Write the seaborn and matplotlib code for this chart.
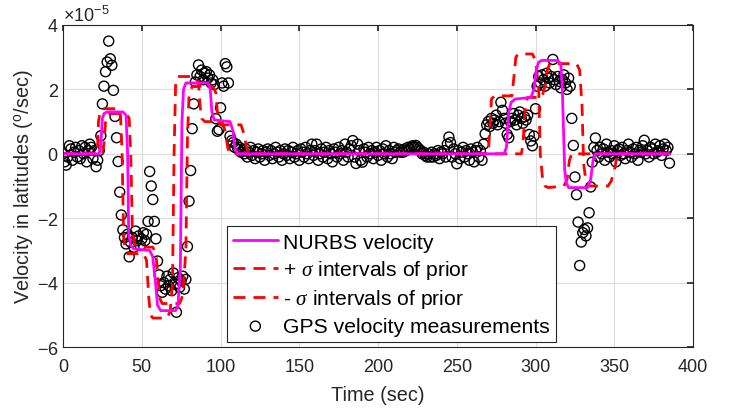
import numpy as np
import pandas as pd
import matplotlib
matplotlib.use("Agg")
import matplotlib.pyplot as plt
import seaborn as sns
from matplotlib.ticker import ScalarFormatter

# ---------------- data (velocity values in units of 1e-5 deg/sec) ----------------
SCALE = 1e-5

gps_vel = [
    # t 0-23
    0.0, -0.25, -0.35, -0.1, 0.25, 0.15, -0.2, 0.05, 0.2, -0.1,
    0.1, -0.15, 0.25, 0.0, 0.2, -0.25, 0.1, 0.3, 0.2, -0.15,
    0.1, -0.4, -0.2, 0.1,
    # t 24-38
    0.56, 1.55, 2.1, 2.55, 2.85, 3.5, 2.95, 2.75, 1.97, 1.16, 0.5, -0.24, -1.19, -1.9, -2.36,
    # t 39-53
    -2.6, -2.8, -2.5, -3.2, -2.75, -2.6, -2.9, -2.4, -2.7, -2.55, -2.85, -2.65, -2.45, -2.7, -2.5,
    # t 54-63
    -2.1, -0.55, -1.0, -1.42, -2.1, -2.64, -3.33, -3.76, -4.1, -4.3,
    # t 64-78
    -4.0, -4.2, -3.8, -4.1, -3.9, -4.25, -3.7, -4.05, -4.92, -3.85, -4.15, -3.95, -3.8, -4.2, -3.9,
    # t 79-95
    -2.88, -1.47, -0.52, 0.78, 1.55, 2.23, 2.45, 2.76, 2.4, 2.6, 2.3, 2.5, 2.55, 2.35, 2.45, 2.2, 2.3,
    # t 96-106
    2.15, 1.09, 0.7, 0.75, 1.43, 2.2, 2.1, 2.8, 2.7, 2.2, 0.55,
    # t 107-114
    0.41, 0.35, 0.2, 0.3, 0.15, 0.2, 0.05, 0.1,
    # t 115-264
    0.0, 0.15, -0.1, 0.05, 0.2, -0.05, 0.1, -0.15, 0.05, 0.15,
    -0.1, 0.0, 0.1, -0.2, 0.05, 0.15, -0.05, 0.1, -0.15, 0.0,
    0.2, 0.05, -0.1, 0.1, -0.2, 0.0, 0.15, -0.05, 0.1, -0.15,
    0.05, 0.2, -0.1, 0.0, 0.1, -0.2, 0.15, 0.05, -0.1, 0.2,
    0.0, -0.15, 0.1, 0.3, -0.05, 0.1, 0.3, -0.2, 0.0, 0.15,
    -0.1, 0.05, 0.2, -0.15, 0.1, 0.0, -0.25, 0.15, 0.05, -0.1,
    0.2, 0.0, 0.1, -0.2, 0.3, 0.05, -0.1, 0.15, 0.25, 0.41,
    -0.1, -0.3, 0.3, 0.1, -0.2, -0.26, 0.15, 0.05, -0.1, 0.2,
    0.0, 0.1, -0.15, 0.05, 0.2, -0.05, 0.1, -0.2, 0.15, 0.0,
    0.25, -0.1, 0.1, 0.0, -0.15, 0.2, 0.05, 0.1, 0.15, 0.05,
    0.1, 0.05, 0.15, 0.1, 0.2, 0.15, 0.2, 0.25, 0.2, 0.26,
    0.2, 0.15, 0.1, 0.0, 0.05, -0.05, -0.1, 0.0, -0.1, 0.05,
    -0.1, 0.0, -0.05, 0.1, -0.15, 0.05, 0.0, 0.1, -0.1, 0.3,
    0.52, 0.35, -0.1, 0.15, 0.0, -0.31, 0.1, -0.15, 0.05, 0.2,
    -0.1, 0.1, 0.0, -0.2, 0.15, 0.05, -0.25, 0.1, 0.2, -0.1,
    # t 265-300
    0.1, -0.2, 0.3, 0.62, 0.9, 1.0, 0.85, 1.1, 0.95, 1.05,
    1.2, 0.9, 1.0, 1.6, 1.35, 1.1, 0.95, 0.6, 0.5, 1.0,
    1.1, 1.25, 1.05, 0.9, 1.2, 1.3, 1.1, 0.95, 1.15, 1.05,
    1.2, 0.6, 0.4, 0.25, 0.55, 1.4,
    # t 301-322
    2.1, 2.4, 2.2, 2.45, 2.3, 2.1, 2.5, 2.35, 2.2, 2.4,
    2.93, 2.3, 2.15, 2.4, 2.25, 2.05, 2.3, 2.45, 2.2, 2.0, 2.35, 2.1,
    # t 323-338
    1.1, 0.26, -0.72, -1.27, -2.12, -3.47, -2.74, -2.45, -2.35, -2.55,
    -2.3, -1.83, -1.03, -0.26, 0.2, 0.49,
    # t 339-385
    0.1, -0.1, 0.2, 0.0, 0.15, -0.2, 0.3, 0.05, -0.1, 0.1,
    0.0, 0.25, -0.25, 0.1, 0.15, -0.05, 0.2, 0.0, -0.15, 0.1,
    0.3, 0.05, -0.1, 0.15, 0.0, 0.2, -0.2, 0.1, 0.05, 0.25,
    0.42, 0.0, 0.1, -0.1, 0.2, 0.15, 0.0, 0.3, 0.05, 0.1,
    0.25, -0.05, 0.15, 0.3, 0.1, 0.2, -0.29,
]
gps_time = np.arange(len(gps_vel))  # one sample per second

nurbs_t = [0, 23, 24, 25, 26, 28, 38, 40, 41, 41.7, 43, 45, 55, 57, 58.7, 60, 62, 71.5, 73, 74.5,
           75.5, 76.5, 78, 92, 93.5, 94.5, 96, 106, 108, 109, 111, 280, 281.5, 283, 284.5, 287,
           297, 299, 300.5, 302, 304, 314, 316, 317, 318.5, 319.5, 321, 333, 335, 336.5, 338, 385]
nurbs_v = [0, 0, 0.3, 1.1, 1.25, 1.3, 1.3, 1.2, 0, -2.5, -2.85, -2.95, -3.0, -3.2, -4.0, -4.7, -4.87,
           -4.87, -4.7, -3.5, 1.0, 2.0, 2.2, 2.2, 2.0, 1.3, 1.05, 1.0, 0.7, 0.2, 0, 0, 0.2, 1.3, 1.6,
           1.7, 1.75, 2.0, 2.6, 2.85, 2.9, 2.9, 2.8, 2.0, -0.5, -0.9, -1.05, -1.05, -0.8, -0.2, 0, 0]

plus_t = [0, 21, 22, 22.5, 23.5, 25, 35, 36.5, 37.5, 38.5, 39.5, 41, 51, 53, 54.5, 55.5, 57, 66, 68,
          69.5, 70.5, 71.5, 73, 84, 86, 87, 88, 90, 101, 103, 104.5, 106, 270, 271, 272, 274, 285,
          286.5, 287.5, 289, 298, 300, 302, 303, 304.5, 306, 308, 318, 320, 321.5, 323, 385]
plus_v = [0, 0, 0.3, 1.0, 1.3, 1.4, 1.4, 1.2, 0, -2.6, -3.0, -3.1, -3.1, -3.3, -4.5, -5.0, -5.1,
          -5.1, -4.9, -4.0, 0, 2.2, 2.4, 2.4, 2.2, 1.5, 1.1, 1.0, 1.0, 0.7, 0.2, 0, 0, 0.8, 1.7, 1.8,
          1.8, 2.5, 3.0, 3.1, 3.1, 2.9, 2.0, 0, -0.8, -1.0, -1.05, -1.0, -0.8, -0.2, 0, 0]

minus_t = [0, 25, 26, 27, 28, 30, 40, 42, 43, 44, 45.5, 47, 57, 59, 60.5, 61.5, 63, 74, 76, 78,
           79, 80, 82, 95, 97, 98, 99, 101, 113, 115, 116.5, 118, 291, 292, 293.5, 295, 304, 306,
           307.5, 309, 326, 328, 329.5, 330.5, 332, 334, 346, 348, 350, 351.5, 353, 385]
minus_v = [0, 0, 0.3, 1.0, 1.2, 1.25, 1.25, 1.1, 0, -2.3, -2.8, -2.9, -2.9, -3.1, -4.0, -4.5, -4.65,
           -4.65, -4.4, -3.0, 0.5, 1.8, 2.1, 2.1, 1.9, 1.3, 0.95, 0.9, 0.9, 0.6, 0.2, 0, 0, 0.3, 1.5,
           1.75, 1.75, 2.1, 2.6, 2.8, 2.8, 2.6, 1.5, -0.3, -0.85, -1.0, -1.0, -0.85, -0.5, -0.15, 0, 0]

x_ticks = [0, 50, 100, 150, 200, 250, 300, 350, 400]
y_ticks = [-6, -4, -2, 0, 2, 4]

labels = ["NURBS velocity", r"+ $\sigma$ intervals of prior",
          r"- $\sigma$ intervals of prior", "GPS velocity measurements"]

# ---------------- style ----------------
sns.set_theme(style="white")
plt.rcParams["font.family"] = ["Liberation Sans", "DejaVu Sans"]
plt.rcParams["axes.unicode_minus"] = False
plt.rcParams["mathtext.fontset"] = "custom"
plt.rcParams["mathtext.rm"] = "Liberation Sans"
plt.rcParams["mathtext.it"] = "Liberation Serif:italic"
plt.rcParams["mathtext.sf"] = "Liberation Sans"
TXT = "#262626"

fig = plt.figure(figsize=(7.32, 4.10), dpi=100)
ax = fig.add_axes([0.0861, 0.1512, 0.8607, 0.7854])

dash = (0, (4.3, 2.9))
sns.lineplot(x=np.array(plus_t), y=np.array(plus_v) * SCALE, ax=ax, color="#ff0000",
             linewidth=2.0, linestyle=dash, sort=False, estimator=None, label=labels[1])
sns.lineplot(x=np.array(minus_t), y=np.array(minus_v) * SCALE, ax=ax, color="#ff0000",
             linewidth=2.0, linestyle=dash, sort=False, estimator=None, label=labels[2])
sns.lineplot(x=np.array(nurbs_t), y=np.array(nurbs_v) * SCALE, ax=ax, color="#ff00ff",
             linewidth=2.0, sort=False, estimator=None, label=labels[0])
sns.scatterplot(x=gps_time, y=np.array(gps_vel) * SCALE, ax=ax, marker="o", s=52,
                color="black", linewidth=1.0, label=labels[3])
coll = ax.collections[-1]
coll.set_facecolor("none")
coll.set_edgecolor("black")

ax.set_xlim(0, 400)
ax.set_ylim(-6 * SCALE, 4 * SCALE)
ax.set_xticks(x_ticks)
ax.set_yticks([v * SCALE for v in y_ticks])
fmt = ScalarFormatter(useMathText=True)
fmt.set_powerlimits((0, 0))
ax.yaxis.set_major_formatter(fmt)
ax.yaxis.get_offset_text().set_fontsize(13)
ax.yaxis.get_offset_text().set_color(TXT)

ax.grid(True, color="#dcdcdc", linewidth=0.8)
ax.set_axisbelow(True)
for sp in ax.spines.values():
    sp.set_color(TXT)
    sp.set_linewidth(0.8)
ax.tick_params(direction="in", length=4, top=True, right=True, color=TXT,
               labelcolor=TXT, labelsize=13)
ax.tick_params(axis="x", pad=8)
ax.tick_params(axis="y", pad=3)

ax.set_xlabel("Time (sec)", fontsize=14.3, color=TXT, labelpad=7)
ax.set_ylabel(r"Velocity in latitudes ($^{\mathrm{o}}$/sec)", fontsize=14.3, color=TXT,
              labelpad=1)

h, l = ax.get_legend_handles_labels()
order = [l.index(lbl) for lbl in labels]
leg = ax.legend([h[i] for i in order], [l[i] for i in order], loc="lower left",
                bbox_to_anchor=(0.26, 0.0155), fontsize=15.2, frameon=True, fancybox=False,
                framealpha=1, edgecolor=TXT, handlelength=2.1, handletextpad=0.25,
                labelspacing=0.3, borderpad=0.3, borderaxespad=0)
leg.get_frame().set_linewidth(0.8)
for t in leg.get_texts():
    t.set_color("black")

fig.savefig("out.png", dpi=100)
